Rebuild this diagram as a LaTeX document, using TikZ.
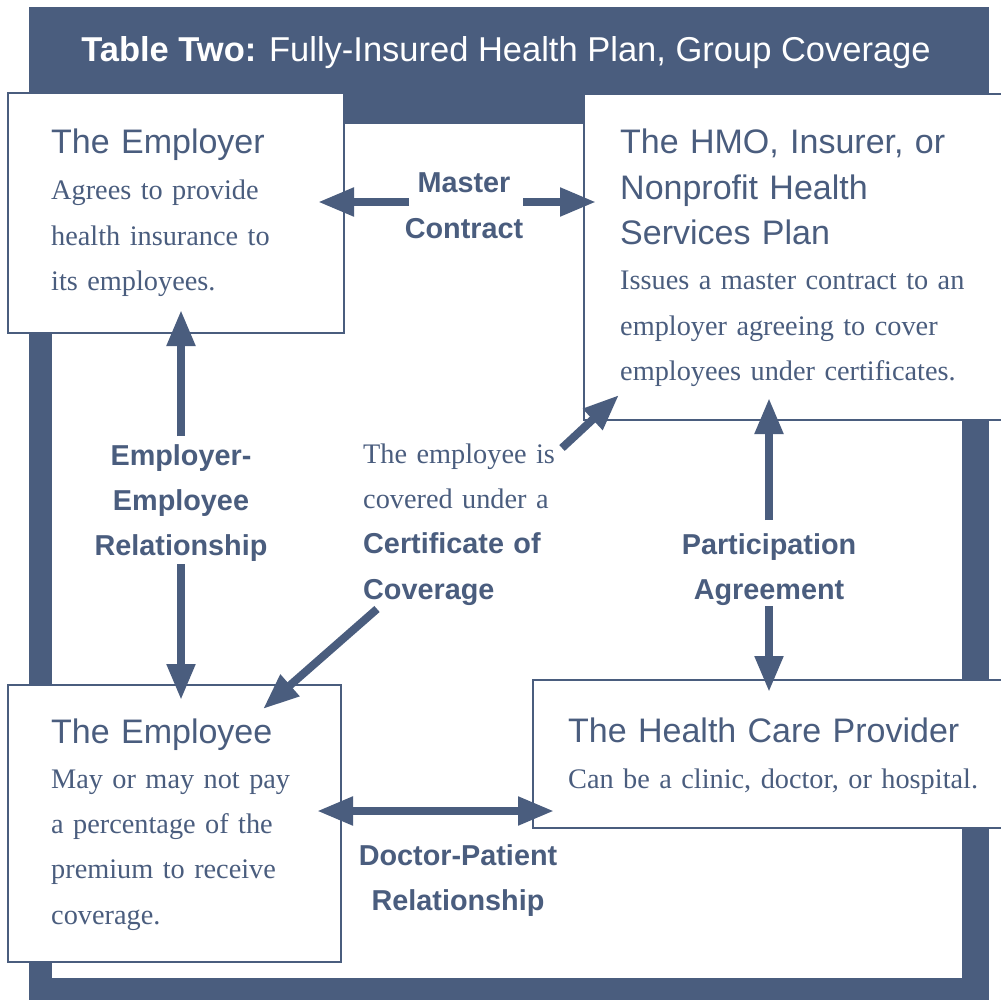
\documentclass[tikz,border=0pt]{standalone}
\usepackage{fontspec}
\setmainfont{Liberation Serif}
\setsansfont{Liberation Sans}
\usetikzlibrary{arrows.meta}
\definecolor{planblue}{HTML}{4A5D7E}
\tikzset{
  box/.style={draw=planblue, line width=1.8pt, fill=white, anchor=north west, inner sep=0pt},
  boxtitle/.style={anchor=base west, inner sep=0pt, text=planblue, text width=#1, align=left,
    font=\sffamily\fontsize{34}{45.2}\selectfont},
  boxtext/.style={anchor=base west, inner sep=0pt, text=planblue, text width=#1, align=left,
    font=\rmfamily\fontsize{28.3}{45.4}\selectfont},
  reltag/.style={anchor=base, inner sep=0pt, text=planblue, text width=#1, align=center,
    font=\sffamily\bfseries\fontsize{28.8}{45.2}\selectfont},
  flow/.style={draw=planblue, line width=8pt, -{Triangle[length=36pt,width=27pt]}},
  twoway/.style={flow, {Triangle[length=36pt,width=27pt]}-{Triangle[length=36pt,width=27pt]}}
}
\begin{document}
\begin{tikzpicture}[x=1pt,y=-1pt]
  \clip (0,0) rectangle (1001,1000);

  % frame and heading
  \fill[planblue] (29,7) rectangle (989,1005);
  \fill[white] (52,124) rectangle (962,978);
  \node[anchor=base, inner sep=0pt, text=white, font=\sffamily\fontsize{34.5}{40}\selectfont]
    (title) at (506,62) {\textbf{Table Two:} Fully-Insured Health Plan, Group Coverage};

  % the four parties
  \node[box, minimum width=336pt, minimum height=240pt] (employer) at (7,92) {};
  \node[box, minimum width=440pt, minimum height=326pt] (hmo) at (583,93) {};
  \node[box, minimum width=333pt, minimum height=277pt] (employee) at (7,684) {};
  \node[box, minimum width=480pt, minimum height=148pt] (provider) at (532,679) {};

  \node[boxtitle=300pt] (employer-title) at (51,154) {The Employer};
  \node[boxtext=300pt] (employer-text) at (51,200) {Agrees to provide\\health insurance to\\its employees.};

  \node[boxtitle=380pt] (hmo-title) at (620,154) {The HMO, Insurer, or\\Nonprofit Health\\Services Plan};
  \node[boxtext=380pt] (hmo-text) at (620,290) {Issues a master contract to an\\employer agreeing to cover\\employees under certificates.};

  \node[boxtitle=300pt] (employee-title) at (51,743) {The Employee};
  \node[boxtext=300pt] (employee-text) at (51,788) {May or may not pay\\a percentage of the\\premium to receive\\coverage.};

  \node[boxtitle=430pt] (provider-title) at (568,742) {The Health Care Provider};
  \node[boxtext=430pt] (provider-text) at (568,788) {Can be a clinic, doctor, or hospital.};

  % relationships
  \node[reltag=200pt] (master) at (464,193) {Master\\Contract};
  \node[reltag=220pt] (bond) at (181,465) {Employer-\\Employee\\Relationship};
  \node[reltag=220pt] (participation) at (769,554) {Participation\\Agreement};
  \node[reltag=240pt] (care) at (458,865) {Doctor-Patient\\Relationship};
  \node[boxtext=240pt] (certificate) at (363,463)
    {The employee is\\covered under a\\\sffamily\bfseries\fontsize{28.8}{45.4}\selectfont Certificate of\\Coverage};

  % arrow ends
  \coordinate (master-w) at (409,202);
  \coordinate (master-e) at (523,202);
  \coordinate (employer-in) at (318,202);
  \coordinate (hmo-in) at (596,202);
  \coordinate (bond-n) at (181,436);
  \coordinate (bond-s) at (181,564);
  \coordinate (employer-up) at (181,310);
  \coordinate (employee-down) at (181,700);
  \coordinate (participation-n) at (769,520);
  \coordinate (participation-s) at (769,606);
  \coordinate (hmo-up) at (769,398);
  \coordinate (provider-down) at (769,692);
  \coordinate (employee-side) at (317,811);
  \coordinate (provider-side) at (554,811);
  \coordinate (certificate-ne) at (562,448);
  \coordinate (certificate-sw) at (377,609);
  \coordinate (hmo-corner) at (619,395);
  \coordinate (employee-corner) at (263,709);

  % arrows
  \draw[flow] (master-w) -- (employer-in);
  \draw[flow] (master-e) -- (hmo-in);
  \draw[flow] (bond-n) -- (employer-up);
  \draw[flow] (bond-s) -- (employee-down);
  \draw[flow] (participation-n) -- (hmo-up);
  \draw[flow] (participation-s) -- (provider-down);
  \draw[twoway] (employee-side) -- (provider-side);
  \draw[flow] (certificate-ne) -- (hmo-corner);
  \draw[flow] (certificate-sw) -- (employee-corner);

\end{tikzpicture}
\end{document}
